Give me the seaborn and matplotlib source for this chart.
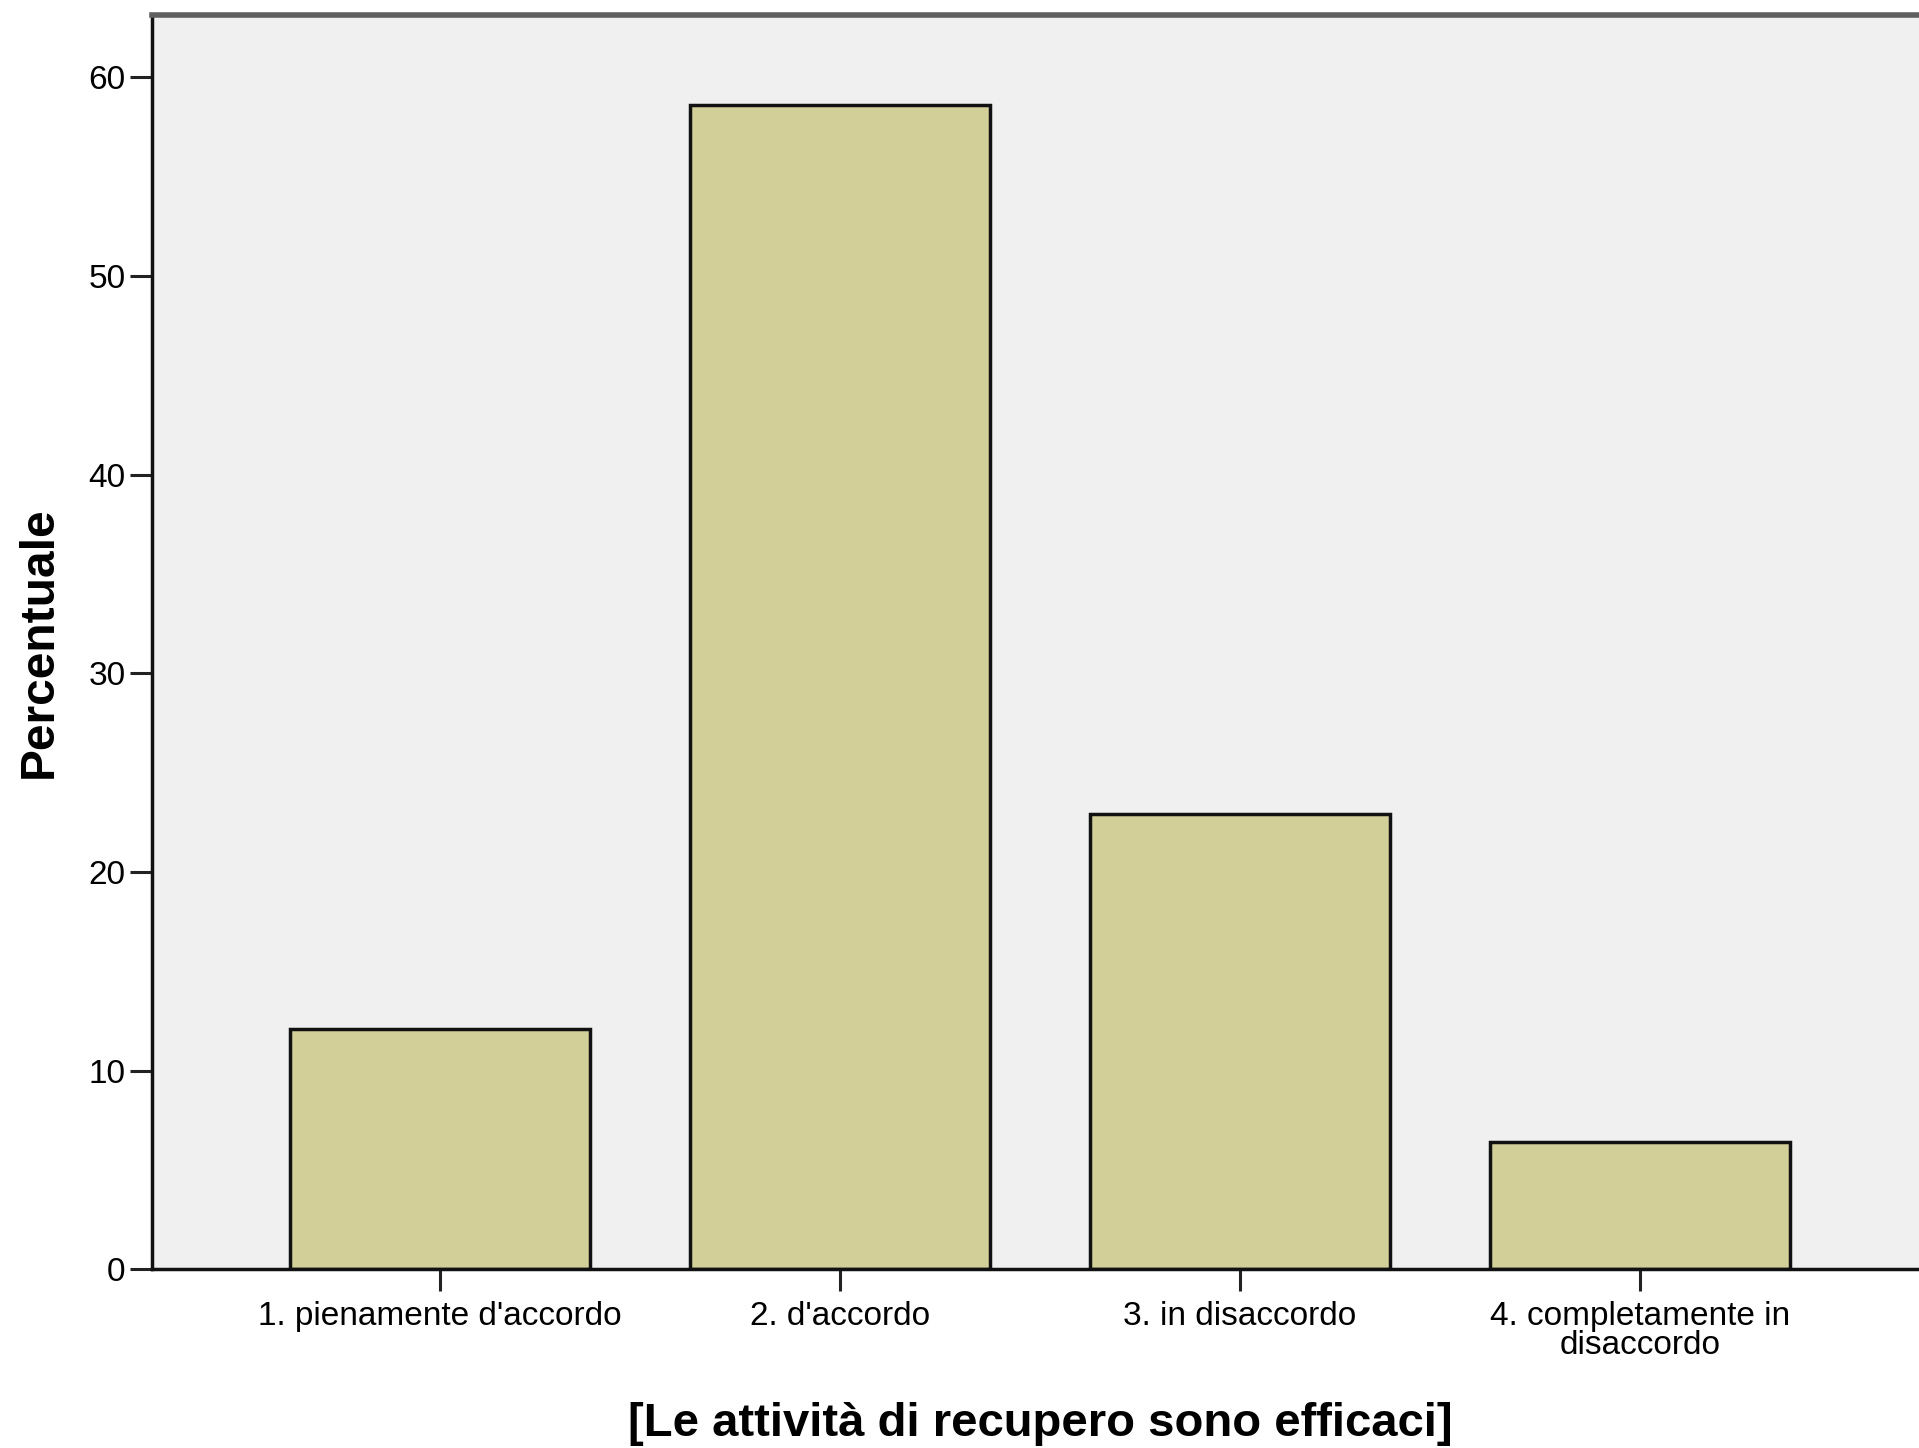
import pandas as pd
import seaborn as sns
import matplotlib
matplotlib.use("Agg")
import matplotlib.pyplot as plt

# risposte e percentuali
categories = ["1. pienamente d'accordo", "2. d'accordo", "3. in disaccordo",
              "4. completamente in\ndisaccordo"]
percentages = [12.1, 58.6, 22.9, 6.4]
y_ticks = [0, 10, 20, 30, 40, 50, 60]

df = pd.DataFrame({"risposta": categories, "percentuale": percentages})

sns.set_style("white")
plt.rcParams["font.family"] = ["Liberation Sans", "DejaVu Sans"]

fig = plt.figure(figsize=(19.19, 14.48), dpi=100)
ax = fig.add_axes([0.0792, 0.1233, 0.9255, 0.8663])
ax.set_facecolor("#F0F0F0")

sns.barplot(data=df, x="risposta", y="percentuale", ax=ax,
            color="#D3CF99", saturation=1, width=0.75,
            edgecolor="#111111", linewidth=2.5)

ax.set_xlim(-0.72, 3.72)
ax.set_ylim(0, 63.13)
ax.set_yticks(y_ticks)

ax.tick_params(axis="both", direction="out", length=16, width=2.2,
               color="#222222", labelsize=24, labelcolor="black")
ax.tick_params(axis="x", pad=7, bottom=True)
ax.tick_params(axis="y", pad=3, left=True)
for lbl in ax.get_xticklabels():
    lbl.set_linespacing(0.92)

for side in ["left", "bottom"]:
    ax.spines[side].set_color("#111111")
    ax.spines[side].set_linewidth(2.5)
ax.spines["top"].set_color("#5f5f5f")
ax.spines["top"].set_linewidth(4)
ax.spines["right"].set_visible(False)

ax.set_ylabel("Percentuale", fontsize=34.5, fontweight="bold", color="black")
ax.set_xlabel("[Le attività di recupero sono efficaci]", fontsize=34,
              fontweight="bold", color="black")
ax.yaxis.set_label_coords(-0.051, 0.5)
ax.xaxis.set_label_coords(0.5, -0.106)

fig.savefig("out.png", dpi=100)
